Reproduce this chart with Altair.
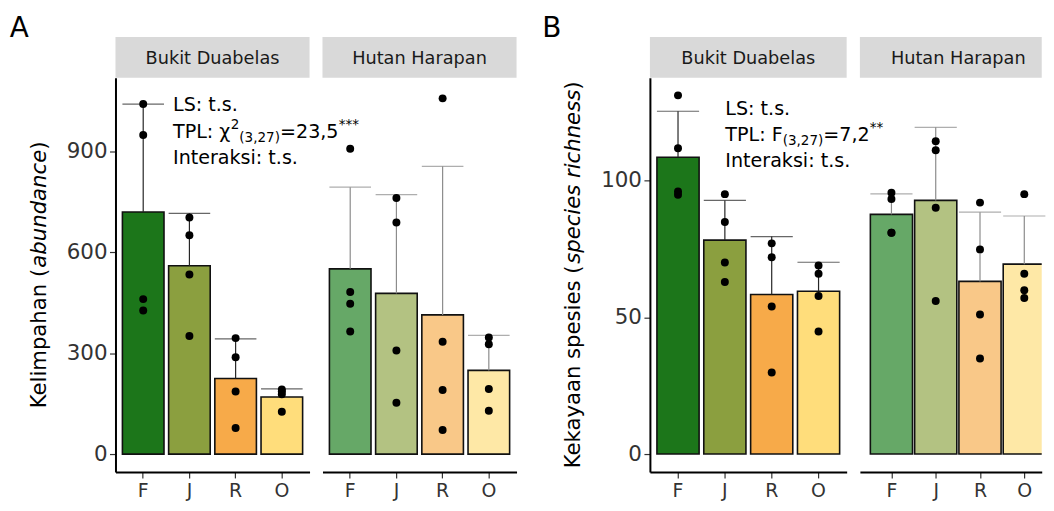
import altair as alt
import pandas as pd

FONT = "DejaVu Sans"
CATS = ["F", "J", "R", "O"]
SITES = ["Bukit Duabelas", "Hutan Harapan"]

COL_BD = ["#1C761A", "#8B9F3F", "#F7AA49", "#FFDD7B"]
COL_HH = ["#66A867", "#B3C282", "#F9C888", "#FEE8A6"]
ERR_BD = "#262626"
ERR_HH = "#8C8C8C"

# Panel A - Kelimpahan (abundance)
A_BD_MEAN = [720, 560, 225, 170]
A_BD_UP = [1041, 716, 343, 194]
A_BD_PTS = [[1041, 949, 461, 427], [704, 651, 534, 351], [345, 288, 186, 78], [192, 186, 178, 126]]
A_HH_MEAN = [551, 478, 414, 249]
A_HH_UP = [794, 772, 856, 353]
A_HH_PTS = [[908, 482, 447, 365], [762, 689, 308, 153], [1058, 334, 191, 72], [347, 327, 194, 129]]
A_DOMAIN = [-53, 1119]
A_TICKS = [0, 300, 600, 900]

# Panel B - Kekayaan spesies (species richness)
B_BD_MEAN = [108.5, 78.2, 58.3, 59.5]
B_BD_UP = [125.3, 92.7, 79.5, 70.1]
B_BD_PTS = [[131.1, 111.8, 96.0, 94.8], [95.0, 84.8, 70.0, 62.9], [77.0, 71.9, 53.9, 29.8], [68.9, 65.9, 57.8, 44.8]]
B_HH_MEAN = [87.6, 92.7, 63.1, 69.4]
B_HH_UP = [95.1, 119.4, 88.4, 87.0]
B_HH_PTS = [[95.5, 93.2, 80.9, 80.9], [114.3, 111.0, 90.0, 55.9], [91.9, 74.8, 51.0, 34.9], [95.0, 65.9, 59.9, 57.0]]
B_DOMAIN = [-6.55, 137.5]
B_TICKS = [0, 50, 100]

H = 396
ONE = pd.DataFrame({"k": [0]})
XLAB = 19


def txt(s, x, y, size, style=None, angle=None, align="left", baseline="alphabetic", color="black"):
    kw = dict(text=s, fontSize=size, font=FONT, align=align, baseline=baseline, color=color)
    if style:
        kw["fontStyle"] = style
    if angle is not None:
        kw["angle"] = angle
    return alt.Chart(ONE).mark_text(**kw).encode(x=alt.value(x), y=alt.value(y))


def panel(mean, up, pts, colors, err, width, dom, ticks, first, label, full_w=None, extra=()):
    summ = pd.DataFrame({"cat": CATS, "mean": mean, "upper": up})
    pdf = pd.DataFrame([{"cat": c, "val": v} for c, vs in zip(CATS, pts) for v in vs])
    quant = full_w is not None
    full_w = full_w if quant else width
    step = full_w / 4.2
    bw = step * 0.9
    axis_kw = dict(title=None, labelAngle=0, tickSize=6, tickColor="#333333", tickWidth=1.2,
                   domainColor="black", domainWidth=2, labelFontSize=XLAB, labelFont=FONT,
                   labelColor="#333333", labelPadding=4, grid=False)
    if quant:
        idx_expr = "indexof(%s, datum.cat)" % str(CATS)
        xaxis = alt.Axis(values=[0, 1, 2, 3], labelExpr="%s[datum.value]" % str(CATS), **axis_kw)
        x = alt.X("idx:Q", scale=alt.Scale(domain=[-0.6, -0.6 + width / step], nice=False, zero=False),
                  axis=xaxis)
    else:
        xaxis = alt.Axis(**axis_kw)
        x = alt.X("cat:N", sort=CATS, scale=alt.Scale(domain=CATS, paddingInner=0.1, paddingOuter=0.15),
                  axis=xaxis)
    yscale = alt.Scale(domain=dom, nice=False, zero=False)
    if first:
        yaxis = alt.Axis(title=None, values=ticks, tickSize=6, tickColor="#333333", tickWidth=1.2,
                         domainColor="black", domainWidth=2, labelFontSize=21.5, labelFont=FONT,
                         labelColor="#333333", labelPadding=2.5, grid=False)
    else:
        yaxis = None

    def ch(df):
        c = alt.Chart(df)
        if quant:
            c = c.transform_calculate(idx=idx_expr)
        return c

    strip = alt.Chart(ONE).mark_rect(color="#D9D9D9").encode(
        x=alt.value(0), x2=alt.value(width), y=alt.value(-41), y2=alt.value(0))
    strip_t = txt(label, full_w / 2, -13.5, 17.8, align="center", color="#1A1A1A")
    bar_kw = dict(stroke="#111111", strokeWidth=1.6)
    if quant:
        bar_kw.update(width=bw, clip=True)
    bars = ch(summ).mark_bar(**bar_kw).encode(
        x=x, y=alt.Y("mean:Q", scale=yscale, axis=yaxis), y2=alt.datum(0),
        color=alt.Color("cat:N", scale=alt.Scale(domain=CATS, range=colors), legend=None))
    rules = ch(summ).mark_rule(color=err, strokeWidth=1.2).encode(
        x=x, y=alt.Y("mean:Q", scale=yscale, axis=yaxis), y2="upper:Q")
    caps = ch(summ).mark_tick(color=err, thickness=1.2, size=bw, orient="horizontal").encode(
        x=x, y=alt.Y("upper:Q", scale=yscale, axis=yaxis))
    dots = ch(pdf).mark_circle(color="black", size=64, opacity=1).encode(
        x=x, y=alt.Y("val:Q", scale=yscale, axis=yaxis))
    layers = [strip, strip_t, bars, rules, caps, dots] + list(extra)
    return alt.layer(*layers).properties(width=width, height=H)


S = 19.2
s = 13.6
YT = 21.3

# annotations for panel A (relative to the first plot's origin)
ax0 = 57.8
ya = H / 2 + 134.1
a_extra = [
    txt("LS: t.s.", ax0, 33.5, S),
    txt("TPL: \u03c7", ax0, 60.5, S),
    txt("2", ax0 + 57.9, 51, s),
    txt("(3,27)", ax0 + 66.6, 64.5, s),
    txt("=23,5", ax0 + 107.5, 60.5, S),
    txt("***", ax0 + 166.5, 51, s),
    txt("Interaksi: t.s.", ax0, 86.5, S),
    # y title with italic part
    txt("Kelimpahan (", -70, ya, YT, angle=270),
    txt("abundance", -70, ya - 141.4, YT, style="italic", angle=270),
    txt(")", -70, ya - 141.4 - 118.5, YT, angle=270),
    txt("A", -106.2, -41, 28),
    alt.Chart(ONE).mark_rect(opacity=0).encode(
        x=alt.value(-108), x2=alt.value(-107), y=alt.value(-69), y2=alt.value(-68)),
]

bx0 = 75.8
yb = H / 2 + 194.4
b_extra = [
    txt("LS: t.s.", bx0, 37.5, S),
    txt("TPL: F", bx0, 63.5, S),
    txt("(3,27)", bx0 + 57.6, 67.5, s),
    txt("=7,2", bx0 + 98.5, 63.5, S),
    txt("**", bx0 + 145, 54, s),
    txt("Interaksi: t.s.", bx0, 89.5, S),
    txt("Kekayaan spesies (", -70, yb, YT, angle=270),
    txt("species richness", -70, yb - 205.5, YT, style="italic", angle=270),
    txt(")", -70, yb - 205.5 - 175.0, YT, angle=270),
    txt("B", -108.3, -41, 28),
]

A1 = panel(A_BD_MEAN, A_BD_UP, A_BD_PTS, COL_BD, ERR_BD, 195, A_DOMAIN, A_TICKS, True, SITES[0], extra=a_extra)
A2 = panel(A_HH_MEAN, A_HH_UP, A_HH_PTS, COL_HH, ERR_HH, 195, A_DOMAIN, A_TICKS, False, SITES[1])
B1 = panel(B_BD_MEAN, B_BD_UP, B_BD_PTS, COL_BD, ERR_BD, 197.7, B_DOMAIN, B_TICKS, True, SITES[0], extra=b_extra)
B2 = panel(B_HH_MEAN, B_HH_UP, B_HH_PTS, COL_HH, ERR_HH, 182.7, B_DOMAIN, B_TICKS, False, SITES[1], full_w=197.7)

spacer = alt.Chart(ONE).mark_point(opacity=0).encode(x=alt.value(0), y=alt.value(0)).properties(width=107.3, height=H)

chart = alt.hconcat(A1, A2, spacer, B1, B2, spacing=13, bounds="flush").resolve_scale(
    color="independent"
).properties(
    padding={"left": 0, "top": 0, "right": 0, "bottom": 0}
).configure_view(stroke=None)

chart.save("out.html", embed_options={"renderer": "svg", "actions": False})
